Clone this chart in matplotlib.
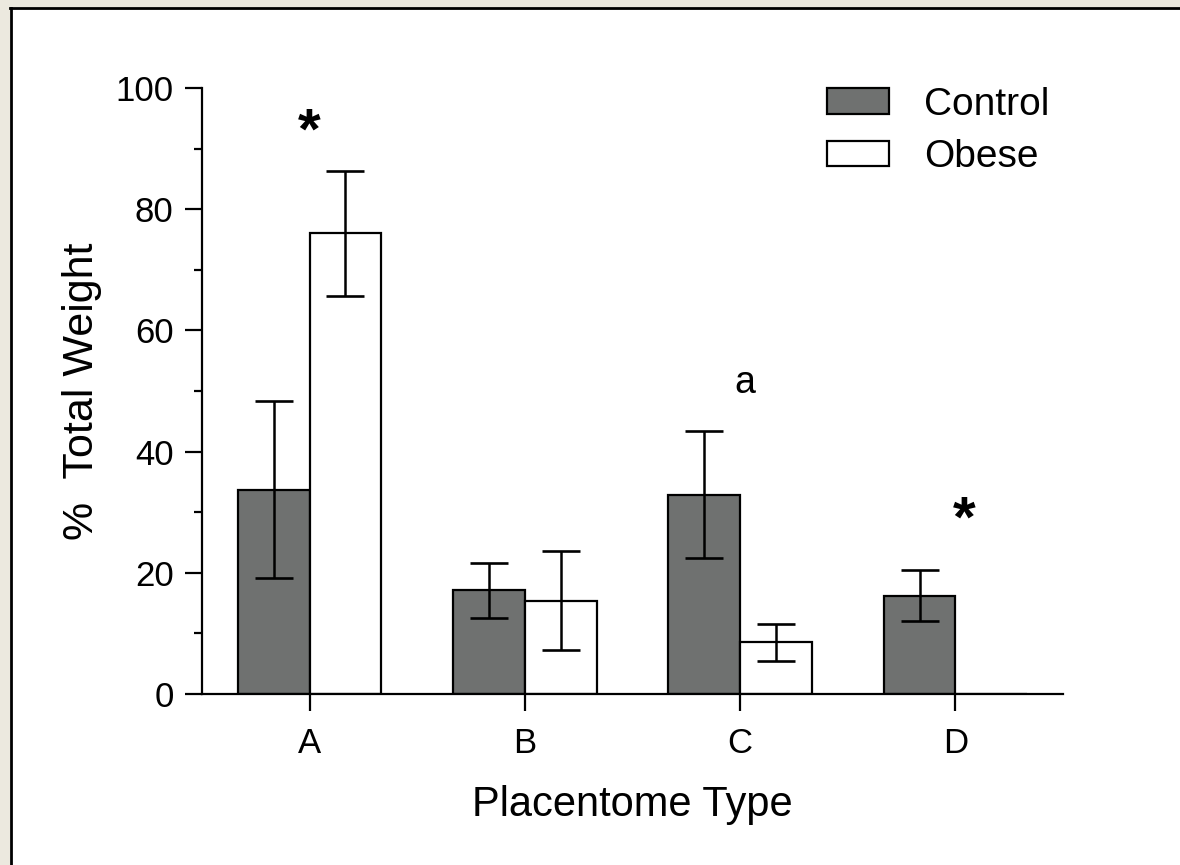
import numpy as np
import matplotlib
matplotlib.use('Agg')
import matplotlib.pyplot as plt
from matplotlib.patches import Rectangle
from matplotlib.lines import Line2D

plt.rcParams['font.family'] = ['Liberation Sans', 'DejaVu Sans']

categories = ['A', 'B', 'C', 'D']
control = [33.7, 17.1, 32.9, 16.2]
control_err = [14.6, 4.5, 10.5, 4.2]
obese = [76.0, 15.4, 8.5, 0.0]
obese_err = [10.3, 8.2, 3.0, 0.0]
series_names = ['Control', 'Obese']
marks = [('*', 0.0, 92.5), ('a', 2.02, 51.3), ('*', 3.04, 28.5)]

W, H = 1180, 865
fig = plt.figure(figsize=(W / 100, H / 100), dpi=100, facecolor='white')
# beige strips on the left and top, with a black frame line inside them
beige = '#ece9df'
fig.patches.append(Rectangle((0, 0), 10 / W, 1, transform=fig.transFigure,
                             facecolor=beige, edgecolor='none', zorder=-2))
fig.patches.append(Rectangle((0, 1 - 7 / H), 1, 7 / H, transform=fig.transFigure,
                             facecolor=beige, edgecolor='none', zorder=-2))
fig.lines.append(Line2D([11 / W, 11 / W], [0, 1 - 8 / H], transform=fig.transFigure,
                        color='black', linewidth=2.0, zorder=-1))
fig.lines.append(Line2D([10 / W, 1], [1 - 8 / H, 1 - 8 / H], transform=fig.transFigure,
                        color='black', linewidth=2.0, zorder=-1))

ax = fig.add_axes([202 / W, 1 - 694 / H, (1063 - 202) / W, (694 - 88) / H])
ax.set_facecolor('none')

x = np.arange(len(categories))
width = 0.333
lw = 1.6

ax.bar(x - width / 2, control, width, color='#6f7170', edgecolor='black',
       linewidth=lw, label=series_names[0], zorder=2)
ax.bar(x + width / 2, obese, width, color='white', edgecolor='black',
       linewidth=lw, label=series_names[1], zorder=2)

ax.errorbar(x - width / 2, control, yerr=control_err, fmt='none', ecolor='black',
            elinewidth=1.8, capsize=14, capthick=1.9, zorder=3)
keep = np.array(obese) > 0
ax.errorbar((x + width / 2)[keep], np.array(obese)[keep], yerr=np.array(obese_err)[keep],
            fmt='none', ecolor='black', elinewidth=1.8, capsize=14, capthick=1.9, zorder=3)

for txt, mx, my in marks:
    if txt == '*':
        ax.text(mx, my, txt, ha='center', va='center', fontsize=42, fontweight='bold')
    else:
        ax.text(mx, my, txt, ha='center', va='center', fontsize=27)

ax.set_xlim(-0.5, 3.5)
ax.set_ylim(0, 100)
ax.set_xticks(x)
ax.set_xticklabels(categories)
ax.set_yticks(np.arange(0, 101, 20))
ax.set_yticks(np.arange(10, 100, 20), minor=True)
ax.tick_params(axis='both', which='major', direction='out', length=12.5, width=1.6,
               labelsize=25, pad=8)
ax.tick_params(axis='x', which='major', pad=11)
ax.tick_params(axis='y', which='minor', direction='out', length=6, width=1.6)
ax.tick_params(axis='x', which='minor', bottom=False)

for side in ['top', 'right']:
    ax.spines[side].set_visible(False)
for side in ['left', 'bottom']:
    ax.spines[side].set_linewidth(1.6)

ax.set_xlabel('Placentome Type', fontsize=30, labelpad=18)
ax.set_ylabel('%  Total Weight', fontsize=31, labelpad=10)

ax.legend(loc='upper left', bbox_to_anchor=(0.685, 1.06), frameon=False, fontsize=28,
          handlelength=1.6, handleheight=0.62, handletextpad=0.9, labelspacing=0.42)

fig.savefig('out.png', dpi=100)
